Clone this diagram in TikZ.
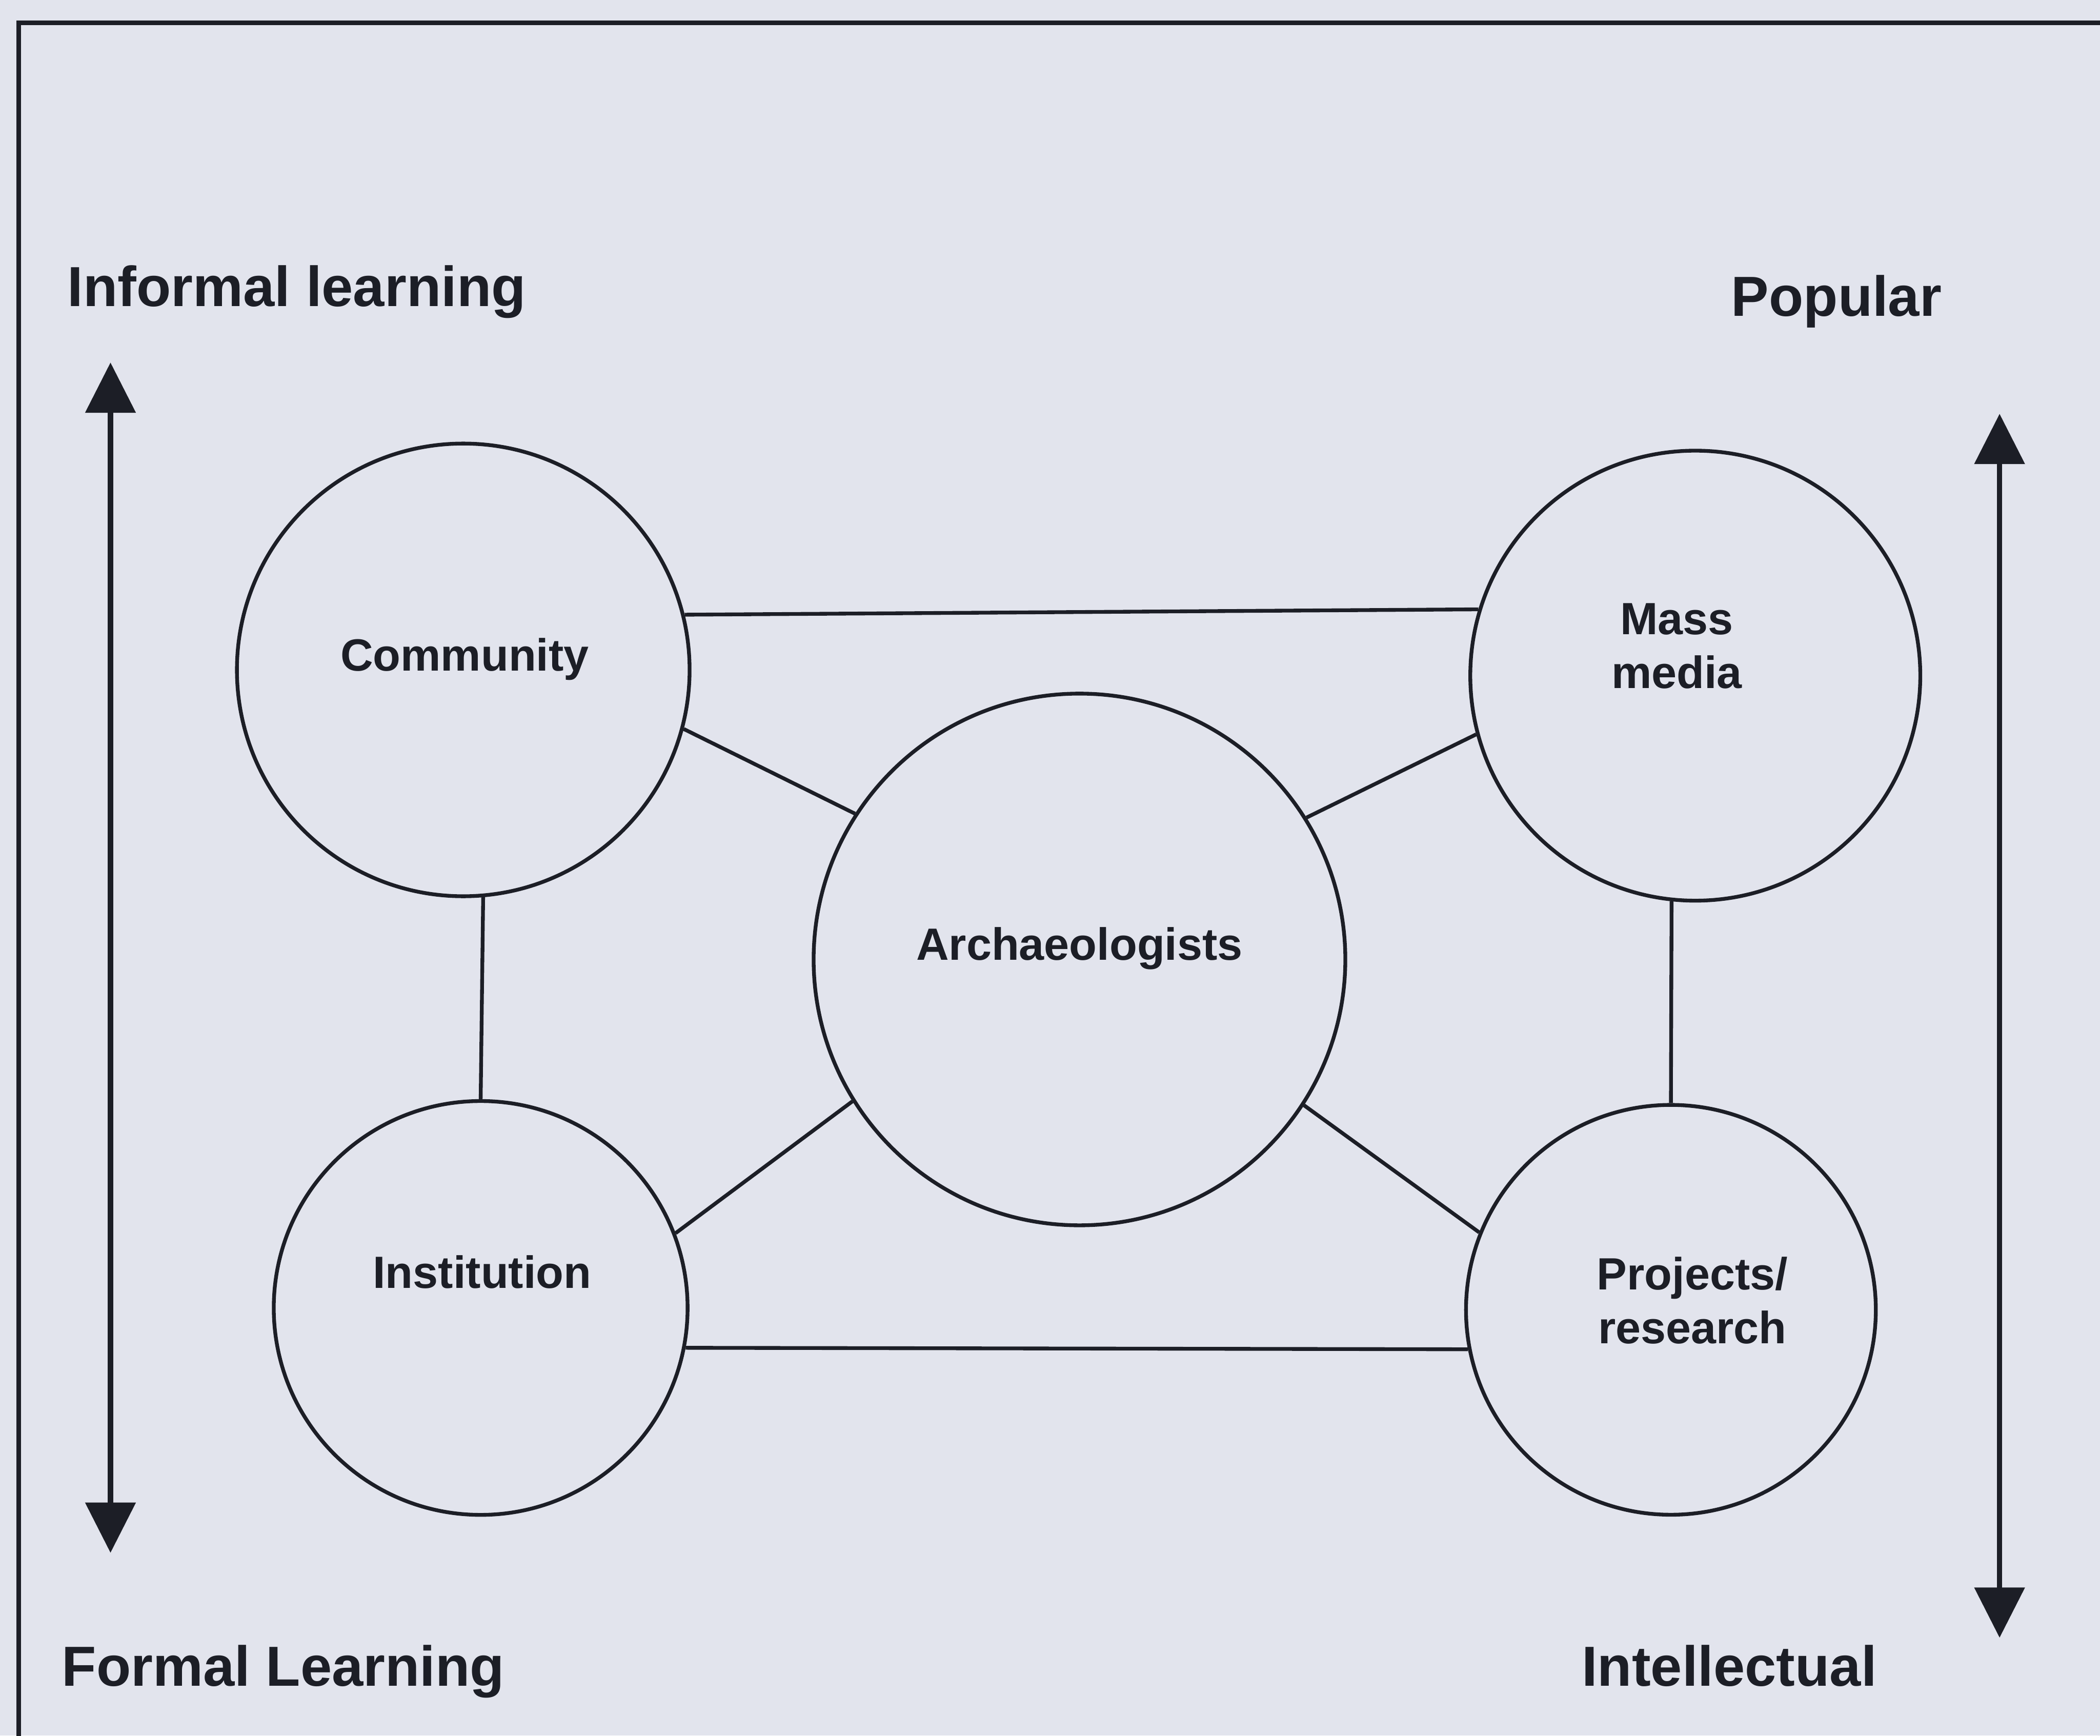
\documentclass[tikz,border=0pt]{standalone}
\usepackage{fontspec}
\setmainfont{Liberation Sans}
\usepackage{xcolor}
\usepackage{tikz}
\usetikzlibrary{arrows.meta}
\tikzset{
  hub/.style={circle, draw=ink, line width=0.8pt, inner sep=0pt},
  hubtext/.style={font=\fontsize{9.6pt}{11.4pt}\selectfont\bfseries, text=ink, align=center, inner sep=0pt},
  axislabel/.style={font=\fontsize{12pt}{14pt}\selectfont\bfseries, text=ink, inner sep=0pt, anchor=base west},
  link/.style={draw=ink, line width=0.8pt},
  axisarrow/.style={{Triangle[length=3.75mm,width=3.7mm]}-{Triangle[length=3.75mm,width=3.7mm]}, line width=1.1pt, draw=ink, fill=ink}
}
\definecolor{ink}{RGB}{28,30,38}
\definecolor{paper}{RGB}{226,228,237}

\begin{document}
\begin{tikzpicture}
\fill[paper] (0,0) rectangle (15.68,12.96);
\useasboundingbox (0,0) rectangle (15.68,12.96);
\draw[ink, line width=1pt] (15.8,12.79) -- (0.14,12.79) -- (0.14,-0.1);

\node[hub, minimum size=3.38cm] (comm) at (3.459,7.958) {};
\node[hub, minimum size=3.36cm] (mass) at (12.658,7.915) {};
\node[hub, minimum size=3.97cm] (arch) at (8.06,5.796) {};
\node[hub, minimum size=3.09cm] (inst) at (3.589,3.194) {};
\node[hub, minimum size=3.06cm] (proj) at (12.476,3.18) {};

\node[hubtext, anchor=base] (commtext) at (3.47,7.95) {Community};
\node[hubtext, anchor=base] (archtext) at (8.06,5.79) {Archaeologists};
\node[hubtext, anchor=base] (insttext) at (3.60,3.34) {Institution};
\node[hubtext] (masstext) at (12.52,8.135) {Mass\\media};
\node[hubtext] (projtext) at (12.636,3.25) {Projects/\\research};

\draw[link] (comm.14.8) -- (mass.163.6);
\draw[link] (inst.-11.8) -- (proj.191.7);
\draw[link] (comm.-85) -- (inst.north);
\draw[link] (mass.264.6) -- (proj.north);
\draw[link] (comm.-15.6) -- (arch.147.2);
\draw[link] (mass.195.2) -- (arch.32.4);
\draw[link] (inst.21.5) -- (arch.212.6);
\draw[link] (proj.158.4) -- (arch.-33.5);

\node[axislabel] (informal) at (0.498,10.672) {Informal learning};
\node[axislabel] (formal) at (0.456,0.372) {Formal Learning};
\node[axislabel] (popular) at (12.92,10.60) {Popular};
\node[axislabel] (intellect) at (11.803,0.37) {Intellectual};

\coordinate (learntop) at (0.825,10.253);
\coordinate (learnbot) at (0.825,1.366);
\coordinate (poptop) at (14.93,9.87);
\coordinate (popbot) at (14.93,0.732);
\draw[axisarrow] (learnbot) -- (learntop);
\draw[axisarrow] (popbot) -- (poptop);
\end{tikzpicture}
\end{document}
